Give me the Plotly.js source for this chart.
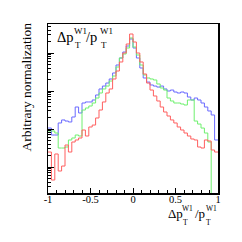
<!DOCTYPE html>
<html>
<head>
<meta charset="utf-8">
<script src="https://cdn.plot.ly/plotly-3.0.1.min.js"></script>
<style>html,body{margin:0;padding:0;background:#fff;}#chart{width:242px;height:242px;}</style>
</head>
<body>
<div id="chart"></div>
<script>
// Histogram binning
const nBins = 50;
const xMin = -1;
const xMax = 1;

// Bin contents (arbitrary normalization)
const blueCounts = [10.6,6.95,6.95,14.4,17.3,16.2,15.3,20.7,37.9,26.4,
  48.3,51.4,51.4,58.0,78.5,113,135,162,207,298,
  483,739,1062,1528,2336,1354,739,403,220,172,
  144,135,127,135,113,100,106,94.1,88.6,94.1,
  88.6,69.5,58.0,65.4,58.0,48.3,37.9,29.8,23.4,5.14];

const greenCounts = [8.86,8.86,7.85,3.16,3.16,3.36,5.14,5.80,6.95,6.54,
  31.6,35.7,40.3,48.3,65.4,88.6,113,135,183,248,
  428,739,941,1354,2482,1438,886,483,264,220,
  207,195,153,120,106,65.4,54.6,48.3,48.3,45.5,
  42.8,58.0,58.0,16.2,13.5,10.6,7.85,4.55,0.001,0.001];

const redCounts = [2.48,0.455,2.20,0.785,1.06,3.79,2.48,4.55,5.14,5.80,
  9.41,6.54,11.3,12.7,19.5,31.6,51.4,88.6,113,207,
  336,580,1000,1725,3162,1948,1000,580,280,162,
  106,73.9,54.6,37.9,28.0,22.0,17.3,14.4,11.3,9.41,
  7.85,6.54,5.46,5.14,3.36,3.16,5.14,4.83,2.80,2.48];

// Axis tick labels
const xTickVals = [-1, -0.5, 0, 0.5, 1];
const xTickText = ['-1', '-0.5', '0', '0.5', '1'];
const yTitle = 'Arbitrary normalization';

function stepXY(vals) {
  const w = (xMax - xMin) / nBins;
  const xs = vals.map((_, i) => xMin + i * w);
  xs.push(xMax);
  const ys = vals.slice();
  ys.push(vals[vals.length - 1]);
  return {xs, ys};
}

function histTrace(vals, color) {
  const s = stepXY(vals);
  return {x: s.xs, y: s.ys, type: 'scatter', mode: 'lines',
    line: {shape: 'hv', color: color, width: 1}, hoverinfo: 'skip', showlegend: false};
}

const traces = [
  histTrace(blueCounts, 'rgb(105,105,255)'),
  histTrace(greenCounts, 'rgb(110,240,110)'),
  histTrace(redCounts, 'rgb(255,95,95)'),
  {x: [0], y: [1], yaxis: 'y2', type: 'scatter', mode: 'lines', hoverinfo: 'skip', showlegend: false}
];

// layout helpers (pixel -> paper)
const L = 48, R = 24, T = 24, B = 49, W = 242, H = 242;
const pw = W - L - R, ph = H - T - B;
const px2x = p => (p - L) / pw;
const py2y = p => (H - B - p) / ph;
const serif = 'Liberation Serif, Times New Roman, serif';
function piece(text, left, base, size) {
  return {text: text, xref: 'paper', yref: 'paper', x: px2x(left), y: py2y(base - 0.34 * size),
    xanchor: 'left', yanchor: 'middle', showarrow: false, borderpad: 0, borderwidth: 0,
    font: {family: serif, size: size, color: 'black'}};
}

const annotations = [
  // in-plot label
  piece('\u0394p', 57, 42, 14.5),
  piece('W1', 73.5, 34, 9),
  piece('T', 74.5, 48, 9),
  piece('/p', 86, 42, 14.5),
  piece('W1', 100, 34, 9),
  piece('T', 101, 48, 9),
  // x-axis title
  piece('\u0394p', 167.5, 218, 13),
  piece('W1', 182, 211, 7.5),
  piece('T', 183, 225, 7.5),
  piece('/p', 194.5, 218, 13),
  piece('W1', 205.5, 211, 7.5),
  piece('T', 206, 225, 7.5),
  // y-axis title
  {text: yTitle, xref: 'paper', yref: 'paper', x: px2x(26), y: py2y(87.5), xanchor: 'center', yanchor: 'middle',
    textangle: -90, showarrow: false, borderpad: 0, font: {family: serif, size: 13.5, color: 'black'}}
];

const yRange = [-0.684, 3.763];

const layout = {
  width: W, height: H,
  margin: {l: L, r: R, t: T, b: B, pad: 0},
  paper_bgcolor: 'white', plot_bgcolor: 'white',
  showlegend: false,
  xaxis: {range: [xMin, xMax], showline: true, mirror: true, linecolor: 'black', linewidth: 1.5,
    ticks: 'inside', ticklen: 5, tickwidth: 1, tickcolor: 'black',
    tickvals: xTickVals, ticktext: xTickText, ticklabelstandoff: -4,
    tickfont: {family: serif, size: 10.5, color: 'black'},
    minor: {dtick: 0.1, ticks: 'inside', ticklen: 3, tickwidth: 1, tickcolor: 'black'},
    showgrid: false, zeroline: false, fixedrange: true},
  yaxis: {type: 'log', range: yRange, showline: true, mirror: true, linecolor: 'black', linewidth: 1.5,
    ticks: 'inside', ticklen: 3, tickwidth: 1, tickcolor: 'black', dtick: 'D1',
    showticklabels: false, showgrid: false, zeroline: false, fixedrange: true},
  yaxis2: {type: 'log', range: yRange, overlaying: 'y', side: 'left', showline: false,
    ticks: 'inside', ticklen: 6, tickwidth: 1, tickcolor: 'black', dtick: 1,
    showticklabels: false, showgrid: false, zeroline: false, fixedrange: true},
  annotations: annotations
};

Plotly.newPlot('chart', traces, layout, {staticPlot: true, displayModeBar: false});
</script>
</body>
</html>
